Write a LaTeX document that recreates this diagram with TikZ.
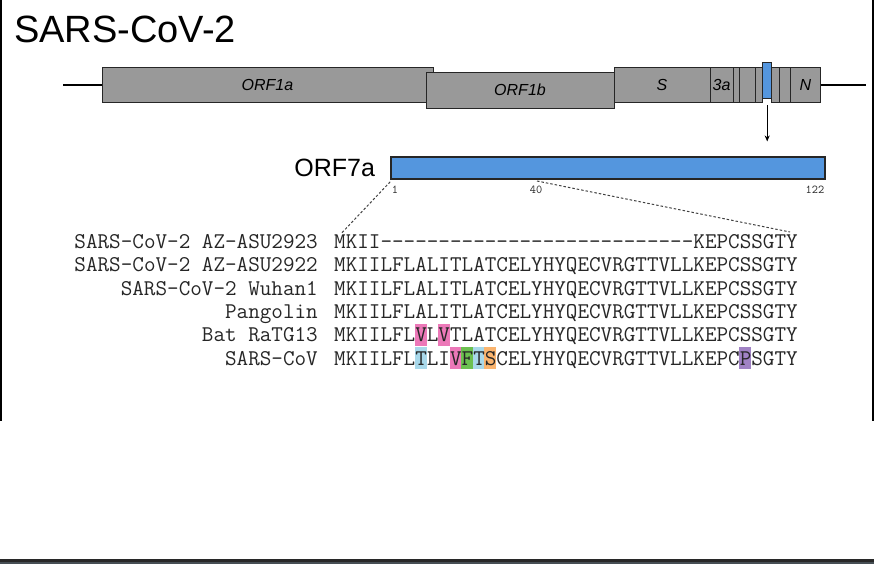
\documentclass[tikz,border=0pt]{standalone}
\usepackage{fontspec}
\setmainfont{Liberation Sans}
\newfontfamily\seqfont{Latin Modern Mono}[Ligatures=TeXOff]
\definecolor{genegray}{RGB}{153, 153, 153}
\definecolor{orfblue}{RGB}{84, 150, 222}
\definecolor{hlpink}{RGB}{236, 120, 184}
\definecolor{hlblue}{RGB}{168, 216, 234}
\definecolor{hlgreen}{RGB}{108, 192, 80}
\definecolor{hlorange}{RGB}{250, 180, 110}
\definecolor{hlpurple}{RGB}{160, 130, 196}
\definecolor{barblack}{RGB}{40, 40, 40}
\definecolor{barslate}{RGB}{70, 78, 84}
\usetikzlibrary{arrows.meta, positioning, calc}
\newcommand{\seqcw}{11.574}

\begin{document}
\begin{tikzpicture}[
  x=1pt, y=-1pt,
  gene/.style={draw=black!85, fill=genegray, line width=0.9pt, inner sep=0pt, minimum height=35pt, font=\itshape\fontsize{16}{16}\selectfont},
  genome/.style={line width=2.5pt, black},
  tick/.style={inner sep=0pt, font=\seqfont\fontsize{12}{12}\selectfont, black!85},
  zoomline/.style={dash pattern=on 2.5pt off 2pt, line width=1pt, black!75},
  seqtext/.style={inner sep=0pt, font=\seqfont\fontsize{22.5}{26}\selectfont, black!85}
]
  \useasboundingbox (0,0) rectangle (874,564);
  \fill[black] (0,0) rectangle (2,421);
  \fill[black] (872,0) rectangle (874,421);
  \fill[barblack] (0,559) rectangle (874,562);
  \fill[barslate] (0,562) rectangle (874,564);

  \node[inner sep=0pt, anchor=base west, font=\fontsize{38}{40}\selectfont] (title) at (14,43) {SARS-CoV-2};

  \coordinate (gstart) at (63,85);
  \coordinate (gend) at (866,85);
  \draw[genome] (gstart) -- (gend);

  \node[gene, minimum width=331pt] (orf1a) at (267.5,84.5) {ORF1a};
  \node[gene, minimum width=188pt, minimum height=35.5pt] (orf1b) at (520,90.25) {ORF1b};
  \node[gene, minimum width=96pt] (gs) at (662,84.5) {S};
  \node[gene, minimum width=23pt] (g3a) at (721.5,84.5) {3a};
  \node[gene, minimum width=6pt] (ge) at (736,84.5) {};
  \node[gene, minimum width=16pt] (gm) at (747,84.5) {};
  \node[gene, minimum width=7.7pt] (g6) at (758.85,84.5) {};
  \node[gene, fill=orfblue, minimum width=9pt, minimum height=36pt] (g7a) at (767.2,80) {};
  \node[gene, minimum width=7.3pt] (g7b) at (775.35,84.5) {};
  \node[gene, minimum width=11.3pt] (g8) at (784.65,84.5) {};
  \node[gene, minimum width=30.4pt] (gn) at (805.5,84.5) {N};

  \draw[-{Stealth[length=6pt, width=5pt]}, line width=0.8pt] ([yshift=-7pt]g7a.south) -- ++(0,36);

  \node[draw=black!85, fill=orfblue, line width=1.6pt, inner sep=0pt, minimum width=434pt, minimum height=22pt] (orf7a) at (608,168) {};
  \node[left=15pt of orf7a, inner sep=0pt, font=\fontsize{25}{25}\selectfont] (orf7alab) {ORF7a};
  \node[tick] (t1) at (395,189.5) {1};
  \node[tick] (t40) at (536,189.5) {40};
  \node[tick] (t122) at (815,189.5) {122};

  \coordinate (z1) at (341.7,233);
  \coordinate (z40) at (537,181);
  \coordinate (z40end) at (790,232);
  \draw[zoomline] ([yshift=-2pt]orf7a.south west) -- (z1);
  \draw[zoomline] (z40) -- (z40end);

  \foreach \r/\k/\c in {5/8/hlpink, 5/10/hlpink, 6/8/hlblue, 6/11/hlpink, 6/12/hlgreen, 6/13/hlblue, 6/14/hlorange, 6/36/hlpurple}
    \fill[\c] ({334+(\k-1)*\seqcw}, {248.3+(\r-1)*23.35-18}) rectangle ++(\seqcw,22);

  \foreach \i/\nm/\sq in {
    1/{SARS-CoV-2 AZ-ASU2923}/{MKII---------------------------KEPCSSGTY},
    2/{SARS-CoV-2 AZ-ASU2922}/{MKIILFLALITLATCELYHYQECVRGTTVLLKEPCSSGTY},
    3/{SARS-CoV-2 Wuhan1}/{MKIILFLALITLATCELYHYQECVRGTTVLLKEPCSSGTY},
    4/{Pangolin}/{MKIILFLALITLATCELYHYQECVRGTTVLLKEPCSSGTY},
    5/{Bat RaTG13}/{MKIILFLVLVTLATCELYHYQECVRGTTVLLKEPCSSGTY},
    6/{SARS-CoV}/{MKIILFLTLIVFTSCELYHYQECVRGTTVLLKEPCPSGTY}} {
    \node[seqtext, anchor=base east] (name\i) at (318, {248.3+(\i-1)*23.35}) {\nm};
    \node[seqtext, anchor=base west] (seq\i) at (334, {248.3+(\i-1)*23.35}) {\sq};
  }
\end{tikzpicture}
\end{document}
